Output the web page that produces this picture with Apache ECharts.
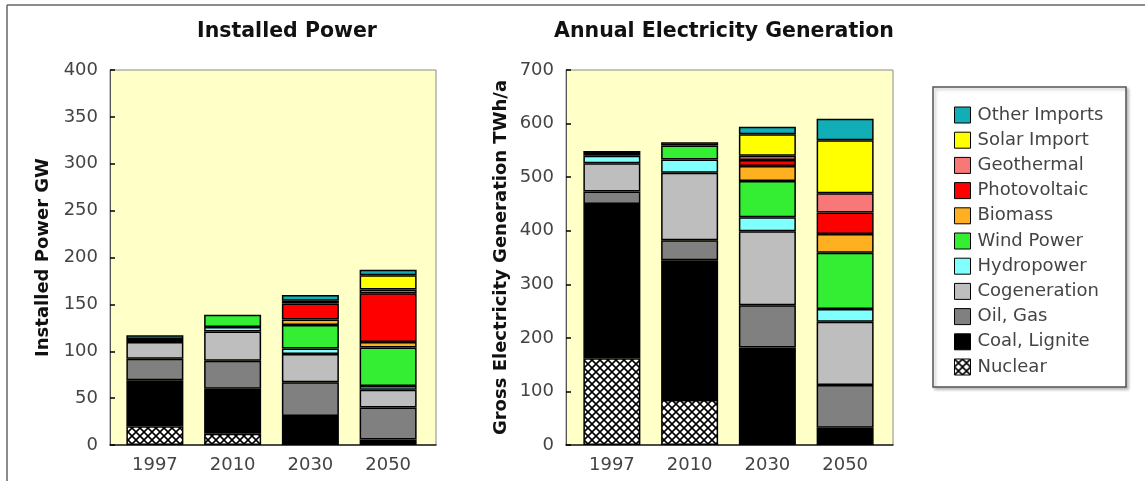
<!DOCTYPE html>
<html>
<head>
<meta charset="utf-8">
<script src="https://cdn.jsdelivr.net/npm/echarts@6/dist/echarts.min.js"></script>
<style>
html,body{margin:0;padding:0;background:#fff;}
#chart{width:1145px;height:481px;}
</style>
</head>
<body>
<div id="chart"></div>
<script>
// ---------- DATA ----------
const years = ['1997', '2010', '2030', '2050'];

// Installed Power (GW)
const powerNuclear      = [20, 12, 0, 0];
const powerCoal         = [49, 48, 31, 6];
const powerOilGas       = [23, 30, 36, 34];
const powerCogeneration = [18, 31, 30, 19];
const powerHydro        = [3, 5, 6, 4];
const powerWind         = [0, 13, 25, 41];
const powerBiomass      = [0, 0, 6, 6];
const powerPV           = [0, 0, 17, 52];
const powerGeothermal   = [0, 0, 0, 4];
const powerSolarImport  = [0, 0, 3, 15];
const powerOtherImports = [4, 0, 6, 6];

// Annual Electricity Generation (TWh/a)
const genNuclear      = [162, 84, 0, 0];
const genCoal         = [288, 261, 182, 32];
const genOilGas       = [23, 37, 79, 80];
const genCogeneration = [53, 126, 138, 118];
const genHydro        = [14, 25, 26, 24];
const genWind         = [3, 26, 68, 105];
const genBiomass      = [0, 0, 28, 35];
const genPV           = [0, 0, 11, 40];
const genGeothermal   = [0, 0, 8, 36];
const genSolarImport  = [0, 0, 40, 99];
const genOtherImports = [6, 6, 14, 40];

const powerTicks = [0, 50, 100, 150, 200, 250, 300, 350, 400];
const genTicks   = [0, 100, 200, 300, 400, 500, 600, 700];

const seriesNames = ['Nuclear', 'Coal, Lignite', 'Oil, Gas', 'Cogeneration', 'Hydropower',
  'Wind Power', 'Biomass', 'Photovoltaic', 'Geothermal', 'Solar Import', 'Other Imports'];
const powerData = [powerNuclear, powerCoal, powerOilGas, powerCogeneration, powerHydro,
  powerWind, powerBiomass, powerPV, powerGeothermal, powerSolarImport, powerOtherImports];
const genData = [genNuclear, genCoal, genOilGas, genCogeneration, genHydro,
  genWind, genBiomass, genPV, genGeothermal, genSolarImport, genOtherImports];

// ---------- STYLE ----------
function makeHatch() {
  const c = document.createElement('canvas');
  c.width = 8; c.height = 8;
  const g = c.getContext('2d');
  g.fillStyle = '#fff'; g.fillRect(0, 0, 8, 8);
  g.strokeStyle = '#000'; g.lineWidth = 1.6;
  g.beginPath();
  g.moveTo(-1, -1); g.lineTo(9, 9);
  g.moveTo(9, -1); g.lineTo(-1, 9);
  g.stroke();
  return c;
}
const hatch = { image: makeHatch(), repeat: 'repeat' };
const colors = [hatch, '#000000', '#808080', '#BEBEBE', '#80FFFF', '#33EE33',
  '#FFB020', '#FF0000', '#F87878', '#FFFF00', '#12AEB8'];

const FONT = 'DejaVu Sans';
const plotTop = 70, plotH = 375;

function frameGrid(left, width) {
  return { left: left, top: plotTop, width: width, height: plotH, show: true,
    backgroundColor: '#FFFFC8', borderColor: '#8a8a8a', borderWidth: 1, containLabel: false };
}
function barGrid(left, width) {
  return { left: left, top: plotTop, width: width, height: plotH, show: false, containLabel: false };
}

const chart = echarts.init(document.getElementById('chart'), null, { renderer: 'canvas' });

function valueAxis(gridIndex, ticks, name, nameGap, visible) {
  const step = ticks[1] - ticks[0];
  return {
    type: 'value', gridIndex: gridIndex, min: ticks[0], max: ticks[ticks.length - 1], interval: step,
    show: visible,
    name: visible ? name : '', nameLocation: 'middle', nameGap: nameGap,
    nameTextStyle: { fontFamily: FONT, fontWeight: 'bold', fontSize: 18, color: '#111' },
    axisLine: { show: true, lineStyle: { color: '#555', width: 1 } },
    axisTick: { show: true, inside: true, length: 5, lineStyle: { color: '#000', width: 1.5 } },
    axisLabel: { fontFamily: FONT, fontSize: 18, color: '#444', margin: 12 },
    splitLine: { show: false }
  };
}

const series = [];
seriesNames.forEach((n, i) => {
  const style = { color: colors[i], borderColor: '#000', borderWidth: 1.5 };
  series.push({
    name: n, type: 'bar', stack: 'power', xAxisIndex: 1, yAxisIndex: 1,
    barWidth: 57, itemStyle: style,
    data: powerData[i].map(v => v === 0 ? null : v)
  });
  series.push({
    name: n, type: 'bar', stack: 'gen', xAxisIndex: 3, yAxisIndex: 3,
    barWidth: 57, itemStyle: style,
    data: genData[i].map(v => v === 0 ? null : v)
  });
});

const option = {
  animation: false,
  backgroundColor: '#fff',
  grid: [frameGrid(110, 326), barGrid(116, 311), frameGrid(566, 327), barGrid(573, 311)],
  xAxis: [
    { type: 'category', gridIndex: 0, data: years,
      axisLine: { show: true, lineStyle: { color: '#222', width: 1.5 } },
      axisTick: { show: false }, axisLabel: { show: false } },
    { type: 'category', gridIndex: 1, data: years,
      axisLine: { show: false }, axisTick: { show: false },
      axisLabel: { fontFamily: FONT, fontSize: 18, color: '#444', margin: 11 } },
    { type: 'category', gridIndex: 2, data: years,
      axisLine: { show: true, lineStyle: { color: '#222', width: 1.5 } },
      axisTick: { show: false }, axisLabel: { show: false } },
    { type: 'category', gridIndex: 3, data: years,
      axisLine: { show: false }, axisTick: { show: false },
      axisLabel: { fontFamily: FONT, fontSize: 18, color: '#444', margin: 11 } }
  ],
  yAxis: [
    valueAxis(0, powerTicks, 'Installed Power GW', 58, true),
    valueAxis(1, powerTicks, '', 0, false),
    valueAxis(2, genTicks, 'Gross Electricity Generation TWh/a', 56, true),
    valueAxis(3, genTicks, '', 0, false)
  ],
  legend: {
    orient: 'vertical', left: 949, top: 101, itemWidth: 16, itemHeight: 16, itemGap: 7.2,
    icon: 'rect',
    itemStyle: { borderColor: '#000', borderWidth: 1 },
    textStyle: { fontFamily: FONT, fontSize: 18, color: '#444', padding: [0, 0, 0, 2] },
    data: seriesNames.slice().reverse(),
    selectedMode: false
  },
  graphic: [
    { type: 'line', shape: { x1: 7, y1: 5, x2: 1145, y2: 5 }, style: { stroke: '#666', lineWidth: 1.5 } },
    { type: 'line', shape: { x1: 7, y1: 5, x2: 7, y2: 481 }, style: { stroke: '#666', lineWidth: 1.5 } },
    { type: 'rect', shape: { x: 933, y: 87, width: 193, height: 300 },
      style: { fill: '#fff', stroke: '#555', lineWidth: 1.5,
        shadowBlur: 3, shadowColor: 'rgba(0,0,0,0.25)', shadowOffsetX: 2, shadowOffsetY: 2 } },
    { type: 'text', x: 287, y: 32,
      style: { text: 'Installed Power', fontFamily: FONT, fontWeight: 'bold', fontSize: 20.5,
        fill: '#111', align: 'center', verticalAlign: 'middle' } },
    { type: 'text', x: 724, y: 32,
      style: { text: 'Annual Electricity Generation', fontFamily: FONT, fontWeight: 'bold', fontSize: 20.5,
        fill: '#111', align: 'center', verticalAlign: 'middle' } }
  ],
  series: series
};
chart.setOption(option);
</script>
</body>
</html>
